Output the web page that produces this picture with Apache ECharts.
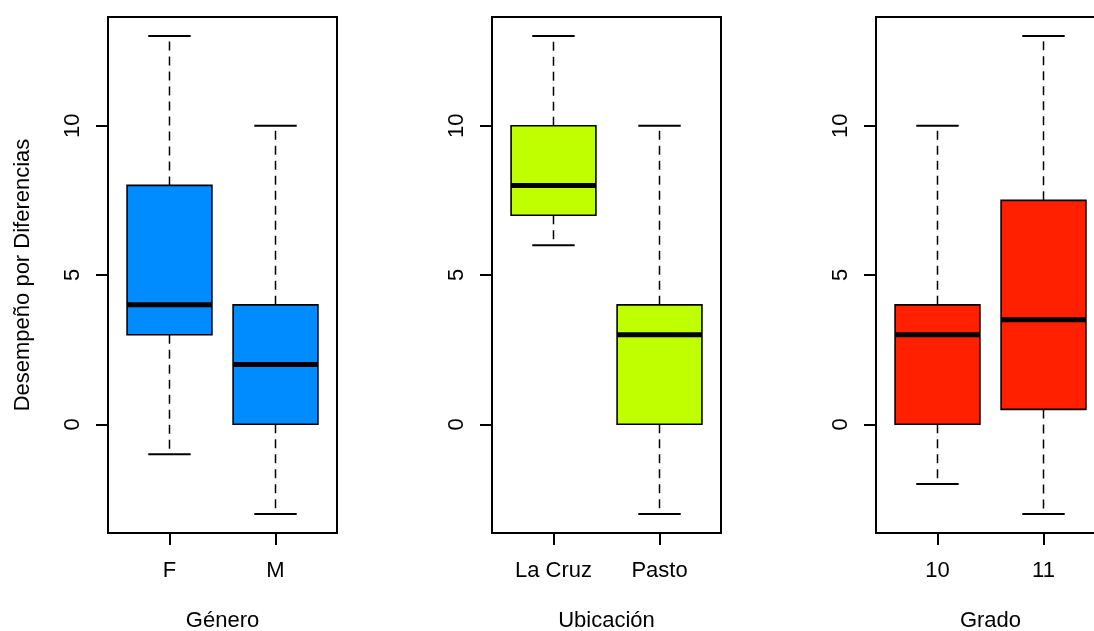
<!DOCTYPE html>
<html>
<head>
<meta charset="utf-8">
<script src="https://cdn.jsdelivr.net/npm/echarts@6/dist/echarts.min.js"></script>
<style>
html,body{margin:0;padding:0;background:#fff;}
#chart{width:1094px;height:631px;}
</style>
</head>
<body>
<div id="chart"></div>
<script>
// ---- data (min, Q1, median, Q3, max) ----
const generoCategories = ['F', 'M'];
const generoStats = [[-1, 3, 4, 8, 13], [-3, 0, 2, 4, 10]];
const ubicacionCategories = ['La Cruz', 'Pasto'];
const ubicacionStats = [[6, 7, 8, 10, 13], [-3, 0, 3, 4, 10]];
const gradoCategories = ['10', '11'];
const gradoStats = [[-2, 0, 3, 4, 10], [-3, 0.5, 3.5, 7.5, 13]];
const yTicks = [0, 5, 10];
const xTitles = ['Género', 'Ubicación', 'Grado'];
const yTitle = 'Desempeño por Diferencias';
const colors = ['#008CFF', '#BFFF00', '#FF2000'];

const panels = [
  { cats: generoCategories, stats: generoStats },
  { cats: ubicacionCategories, stats: ubicacionStats },
  { cats: gradoCategories, stats: gradoStats }
];

const FONT = 'Liberation Sans, Arial, sans-serif';
const FS = 22;
const lefts = [108, 492, 876];

function makeRender(color) {
  return function (params, api) {
    const x = api.value(0);
    const lo = api.coord([x, api.value(1)]);
    const q1 = api.coord([x, api.value(2)]);
    const med = api.coord([x, api.value(3)]);
    const q3 = api.coord([x, api.value(4)]);
    const hi = api.coord([x, api.value(5)]);
    const halfW = api.size([0.8, 0])[0] / 2;
    const capHalf = halfW / 2;
    const cx = lo[0];
    const dash = { stroke: '#000', lineWidth: 1.5, lineDash: [9, 6] };
    const solid = { stroke: '#000', lineWidth: 2 };
    return {
      type: 'group',
      children: [
        { type: 'line', shape: { x1: cx, y1: q1[1], x2: cx, y2: lo[1] }, style: dash },
        { type: 'line', shape: { x1: cx, y1: q3[1], x2: cx, y2: hi[1] }, style: dash },
        { type: 'line', shape: { x1: cx - capHalf, y1: lo[1], x2: cx + capHalf, y2: lo[1] }, style: solid },
        { type: 'line', shape: { x1: cx - capHalf, y1: hi[1], x2: cx + capHalf, y2: hi[1] }, style: solid },
        { type: 'rect', shape: { x: cx - halfW, y: q3[1], width: 2 * halfW, height: q1[1] - q3[1] },
          style: { fill: color, stroke: '#000', lineWidth: 1.6 } },
        { type: 'line', shape: { x1: cx - halfW, y1: med[1], x2: cx + halfW, y2: med[1] },
          style: { stroke: '#000', lineWidth: 5 } }
      ]
    };
  };
}

const grid = [], xAxis = [], yAxis = [], series = [];
panels.forEach((p, i) => {
  grid.push({ left: lefts[i], top: 17, width: 229, height: 516, show: true,
    containLabel: false, outerBoundsMode: 'none',
    borderColor: '#000', borderWidth: 2, backgroundColor: 'transparent' });
  xAxis.push({
    type: 'value', gridIndex: i, min: 0.42, max: 2.58, position: 'bottom',
    axisLine: { show: false, onZero: false },
    axisTick: { show: true, length: 12, lineStyle: { color: '#000', width: 2 }, customValues: [1, 2] },
    axisLabel: { show: true, margin: 27, color: '#000', fontFamily: FONT, fontSize: FS,
      customValues: [1, 2], formatter: v => p.cats[Math.round(v) - 1] },
    splitLine: { show: false },
    name: xTitles[i], nameLocation: 'middle', nameGap: 77,
    nameTextStyle: { color: '#000', fontFamily: FONT, fontSize: FS }
  });
  yAxis.push({
    type: 'value', gridIndex: i, min: -3.64, max: 13.64, position: 'left',
    axisLine: { show: false, onZero: false },
    axisTick: { show: true, length: 12, lineStyle: { color: '#000', width: 2 }, customValues: yTicks },
    axisLabel: { show: true, rotate: 90, margin: 24, color: '#000', fontFamily: FONT, fontSize: FS,
      customValues: yTicks },
    splitLine: { show: false },
    name: i === 0 ? yTitle : '', nameLocation: 'middle', nameGap: 74, nameRotate: 90,
    nameTextStyle: { color: '#000', fontFamily: FONT, fontSize: FS }
  });
  series.push({
    type: 'custom', xAxisIndex: i, yAxisIndex: i,
    renderItem: makeRender(colors[i]),
    encode: { x: 0, y: [1, 2, 3, 4, 5] },
    data: p.stats.map((s, k) => [k + 1].concat(s)),
    clip: false
  });
});

const chart = echarts.init(document.getElementById('chart'), null, { renderer: 'canvas' });
chart.setOption({ animation: false, backgroundColor: '#fff', grid, xAxis, yAxis, series });
</script>
</body>
</html>
